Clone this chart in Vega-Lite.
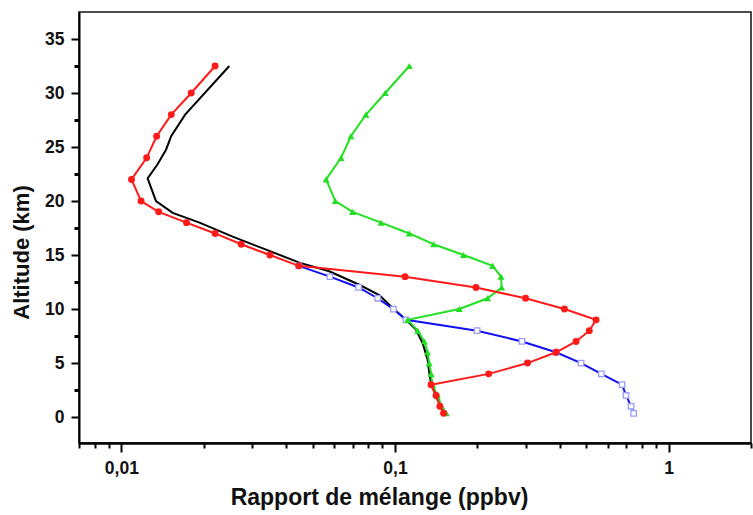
{
  "$schema": "https://vega.github.io/schema/vega-lite/v6.json",
  "width": 672,
  "height": 431,
  "autosize": {"type": "none"},
  "padding": {"left": 79, "top": 12, "right": 2, "bottom": 72},
  "background": "white",
  "config": {
    "view": {"stroke": "#111", "strokeWidth": 1.5},
    "axis": {
      "domainColor": "#000",
      "tickColor": "#000",
      "labelColor": "#111",
      "titleColor": "#111",
      "grid": false,
      "labelFont": "Liberation Sans, Arial",
      "labelFontWeight": "bold",
      "labelFontSize": 17.5,
      "titleFont": "Liberation Sans, Arial",
      "labelFlush": false,
      "labelOverlap": false
    }
  },
  "datasets": {
    "red": [
      {"alt": 32.5, "x": 0.0220}, {"alt": 30, "x": 0.0180}, {"alt": 28, "x": 0.01522},
      {"alt": 26, "x": 0.01345}, {"alt": 24, "x": 0.01237}, {"alt": 22, "x": 0.01089},
      {"alt": 20, "x": 0.0118}, {"alt": 19, "x": 0.01368}, {"alt": 18, "x": 0.0173},
      {"alt": 17, "x": 0.0220}, {"alt": 16, "x": 0.0274}, {"alt": 15, "x": 0.0349},
      {"alt": 14, "x": 0.0445}, {"alt": 13, "x": 0.1088}, {"alt": 12, "x": 0.1977},
      {"alt": 11, "x": 0.300}, {"alt": 10, "x": 0.416}, {"alt": 9, "x": 0.543},
      {"alt": 8, "x": 0.513}, {"alt": 7, "x": 0.459}, {"alt": 6, "x": 0.388},
      {"alt": 5, "x": 0.305}, {"alt": 4, "x": 0.220}, {"alt": 3, "x": 0.1354},
      {"alt": 2, "x": 0.1413}, {"alt": 1, "x": 0.1459}, {"alt": 0.35, "x": 0.1505}
    ],
    "black": [
      {"alt": 32.5, "x": 0.0248}, {"alt": 28, "x": 0.0171}, {"alt": 26, "x": 0.0152},
      {"alt": 24.75, "x": 0.01456}, {"alt": 23.4, "x": 0.01356}, {"alt": 22.1, "x": 0.01247},
      {"alt": 20, "x": 0.01338}, {"alt": 18.9, "x": 0.0154}, {"alt": 18, "x": 0.0193},
      {"alt": 16.7, "x": 0.0255}, {"alt": 15.5, "x": 0.0338}, {"alt": 14.3, "x": 0.0447},
      {"alt": 13.5, "x": 0.0575}, {"alt": 12.25, "x": 0.074}, {"alt": 11.3, "x": 0.0876},
      {"alt": 10.1, "x": 0.098}, {"alt": 9, "x": 0.1097}, {"alt": 8.1, "x": 0.1193},
      {"alt": 6.85, "x": 0.1261}, {"alt": 5.3, "x": 0.1316}, {"alt": 4.07, "x": 0.1335},
      {"alt": 3.15, "x": 0.1354}, {"alt": 1.9, "x": 0.1413}, {"alt": 0.37, "x": 0.1515}
    ],
    "green": [
      {"alt": 32.5, "x": 0.1128}, {"alt": 30, "x": 0.0921}, {"alt": 28, "x": 0.0783},
      {"alt": 26, "x": 0.0690}, {"alt": 24, "x": 0.0635}, {"alt": 22, "x": 0.0560},
      {"alt": 20, "x": 0.0605}, {"alt": 19, "x": 0.0700}, {"alt": 18, "x": 0.0889},
      {"alt": 17, "x": 0.1128}, {"alt": 16, "x": 0.1384}, {"alt": 15, "x": 0.178},
      {"alt": 14, "x": 0.2274}, {"alt": 13, "x": 0.2440}, {"alt": 12, "x": 0.2454},
      {"alt": 11, "x": 0.218}, {"alt": 10, "x": 0.1718}, {"alt": 9, "x": 0.1112},
      {"alt": 8, "x": 0.121}, {"alt": 7, "x": 0.128}, {"alt": 6, "x": 0.1315},
      {"alt": 5, "x": 0.1333}, {"alt": 4, "x": 0.1355}, {"alt": 3, "x": 0.137},
      {"alt": 2, "x": 0.143}, {"alt": 1, "x": 0.148}, {"alt": 0.35, "x": 0.154}
    ],
    "blue": [
      {"alt": 14, "x": 0.0445}, {"alt": 13, "x": 0.0578}, {"alt": 12, "x": 0.0736},
      {"alt": 11, "x": 0.0864}, {"alt": 10, "x": 0.0986}, {"alt": 9, "x": 0.1097},
      {"alt": 8, "x": 0.1995}, {"alt": 7, "x": 0.291}, {"alt": 6, "x": 0.3876},
      {"alt": 5, "x": 0.4786}, {"alt": 4, "x": 0.5676}, {"alt": 3, "x": 0.6756},
      {"alt": 2, "x": 0.699}, {"alt": 1, "x": 0.729}, {"alt": 0.35, "x": 0.745}
    ]
  },
  "encoding": {
    "x": {
      "field": "x",
      "type": "quantitative",
      "scale": {"type": "log", "domain": [0.007, 2], "nice": false},
      "axis": {
        "title": "Rapport de mélange (ppbv)",
        "titleFontSize": 23,
        "titleFontWeight": "bold",
        "titleX": 300,
        "titlePadding": 10,
        "values": [0.007, 0.008, 0.009, 0.01, 0.02, 0.03, 0.04, 0.05, 0.06, 0.07, 0.08, 0.09, 0.1, 0.2, 0.3, 0.4, 0.5, 0.6, 0.7, 0.8, 0.9, 1, 2],
        "labelExpr": "datum.value == 0.01 ? '0,01' : datum.value == 0.1 ? '0,1' : datum.value == 1 ? '1' : ''",
        "domainWidth": 2.5,
        "tickSize": {"condition": {"test": "datum.value == 0.01 || datum.value == 0.1 || datum.value == 1", "value": 9}, "value": 5},
        "tickWidth": 2,
        "labelPadding": 7
      }
    },
    "y": {
      "field": "alt",
      "type": "quantitative",
      "scale": {"domain": [-2.4, 37.5], "nice": false, "zero": false},
      "axis": {
        "title": "Altitude (km)",
        "titleFontSize": 22,
        "titleFontWeight": "bold",
        "titleX": -46,
        "titleY": 240,
        "titleAngle": -90,
        "titleAlign": "center",
        "titleBaseline": "bottom",
        "values": [0, 2.5, 5, 7.5, 10, 12.5, 15, 17.5, 20, 22.5, 25, 27.5, 30, 32.5, 35],
        "labelExpr": "datum.value % 5 == 0 ? datum.label : ''",
        "domainWidth": 2,
        "tickSize": {"condition": {"test": "datum.value % 5 == 0", "value": 8}, "value": 5},
        "tickWidth": {"condition": {"test": "datum.value % 5 == 0", "value": 2}, "value": 3},
        "labelPadding": 7
      }
    },
    "order": {"field": "alt", "type": "quantitative"}
  },
  "layer": [
    {"data": {"name": "black"}, "mark": {"type": "line", "color": "#000", "strokeWidth": 2}},
    {"data": {"name": "blue"}, "mark": {"type": "line", "color": "#1010f0", "strokeWidth": 2}},
    {"data": {"name": "blue"}, "mark": {"type": "point", "shape": "square", "filled": false, "fill": "white", "fillOpacity": 1, "stroke": "#9c9cff", "strokeWidth": 1.3, "size": 30, "opacity": 1}},
    {"data": {"name": "green"}, "mark": {"type": "line", "color": "#22e022", "strokeWidth": 2}},
    {"data": {"name": "green"}, "mark": {"type": "point", "shape": "triangle-up", "filled": true, "color": "#22dd22", "size": 50, "opacity": 1}},
    {"data": {"name": "red"}, "mark": {"type": "line", "color": "#ff1a1a", "strokeWidth": 2}},
    {"data": {"name": "red"}, "mark": {"type": "point", "shape": "circle", "filled": true, "color": "#ff1a1a", "size": 48, "opacity": 1}}
  ]
}
